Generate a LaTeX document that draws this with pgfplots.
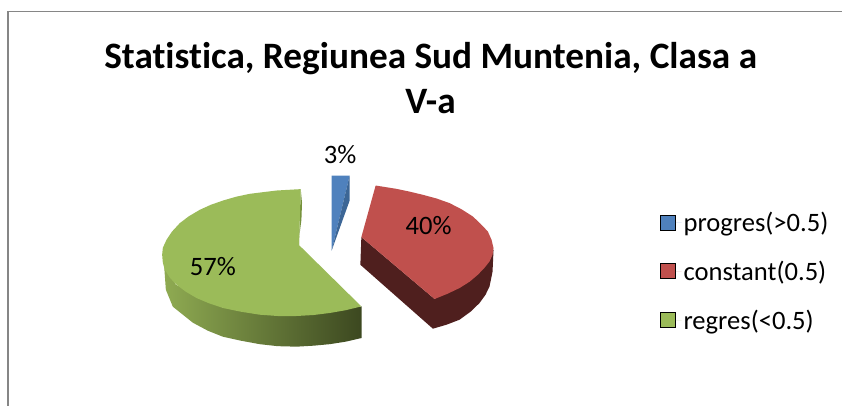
\documentclass[border=0pt]{standalone}
\usepackage{fontspec}
\setmainfont[Ligatures=NoCommon]{Carlito}
\usepackage{pgfplots}
\pgfplotsset{compat=1.18}
\definecolor{blueface}{HTML}{4F81BD}
\definecolor{blueside}{HTML}{3C6696}
\definecolor{redface}{HTML}{C0504D}
\definecolor{redside}{HTML}{4F1F1E}
\definecolor{greenface}{HTML}{9BBB59}
\definecolor{greenedge}{HTML}{76923C}
\definecolor{greenlight}{HTML}{8FAB52}
\definecolor{greendark}{HTML}{3C4820}
\definecolor{framegray}{HTML}{868686}
\begin{document}
\begin{tikzpicture}
\begin{axis}[
  anchor=south west, at={(0pt,0pt)},
  scale only axis, width=843pt, height=406pt,
  xmin=0, xmax=843, ymin=0, ymax=406, y dir=reverse,
  axis line style={draw=none}, ticks=none, clip=false,
  title={Statistica, Regiunea Sud Muntenia, Clasa a\\V-a},
  title style={at={(axis cs:431,84.5)}, anchor=center, align=center, inner sep=0pt,
    font=\fontsize{37.3}{45}\selectfont\bfseries},
  legend image code/.code={\fill[#1] (0pt,-7.5pt) rectangle (15pt,7.5pt); \path[draw=none] (15pt,0pt) -- (21pt,0pt);},
  legend style={at={(axis cs:661,210)}, anchor=north west, draw=none, fill=none,
    inner sep=0pt, outer sep=0pt, row sep=24pt, cells={anchor=west},
    font=\fontsize{26.6}{31}\selectfont, legend columns=1},
]
% frame
\addplot[framegray, line width=1.6pt, forget plot] coordinates {(8,406) (8,11.5) (843,11.5)};
% green slice
\addplot[left color=greenlight, right color=greendark, draw=none, forget plot] coordinates {
  (164,262) (166,290) (173,307) (193,323) (208,331) (223,337) (241,341) (260,344.5) (278,346.5) (297,347)
  (314,346) (330,344.5) (346,342) (362,338.3) (362,306.7) (296,316) (223,308) (176,285)} --cycle;
\addplot[fill=greenedge, draw=none, forget plot] coordinates {
  (301,189.3) (302.3,203) (301.7,220) (298.7,243.3) (299.3,245.3)} --cycle;
\addplot[fill=greenface, draw=none, forget plot] coordinates {
  (299.3,245.3) (301,189.3) (276.7,190.7) (250,194) (236,197) (223.3,200.7) (211,205) (200,210) (189,216.5)
  (180,223.3) (172,232) (166.7,240) (163,248) (162.3,255) (163,263) (165,270) (170,278) (176.7,285) (186,292)
  (196.7,298.3) (209,303.5) (223.3,308.3) (241,312) (260,315) (278,316.3) (296.7,316.3) (314,315.3) (330,313.3)
  (346,310.5) (361.7,306.7)} --cycle;
% red slice
\addplot[fill=redside, draw=none, forget plot] coordinates {
  (361.7,237.3) (360.7,265) (433.3,329) (447,325) (460,320) (471,312) (480,303.3) (486,295) (490,286.7) (493,272) (494,250)
  (435,299.3)} --cycle;
\addplot[fill=redface, draw=none, forget plot] coordinates {
  (376,185.7) (361.7,237.3) (435,299.3) (448,294) (460,288.3) (470,282) (478.3,275) (485,268) (490,261.7)
  (493,255) (494,248.3) (492,240) (488.3,231.7) (481,224) (473.3,216.7) (462,209.5) (450,203.3) (437,198.7)
  (423.3,195) (410,191.8) (396.7,189)} --cycle;
% blue slice
\addplot[fill=blueface, draw=none, forget plot] coordinates {(332,175.7) (350,175.7) (332,250.7)} --cycle;
\addplot[fill=blueside, draw=none, forget plot] coordinates {(350,175.7) (350,200.7) (332,250.7)} --cycle;
% percentage labels
\addplot[only marks, mark options={draw=none, fill=none}, forget plot,
  point meta=explicit symbolic, nodes near coords,
  every node near coord/.append style={anchor=center, inner sep=0pt,
    font=\fontsize{26.6}{31}\selectfont}] coordinates {
  (340.5,155) [3\%]
  (429,226) [40\%]
  (213,267) [57\%]
};
% legend
\addlegendimage{fill=blueface}
\addlegendentry{progres(>0.5)}
\addlegendimage{fill=redface}
\addlegendentry{constant(0.5)}
\addlegendimage{fill=greenface}
\addlegendentry{regres(<0.5)}
\end{axis}
\end{tikzpicture}
\end{document}
